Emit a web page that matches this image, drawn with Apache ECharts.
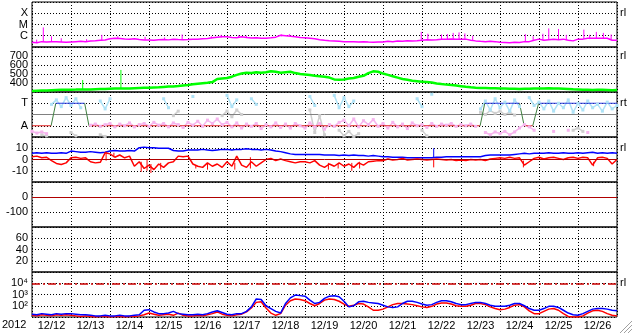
<!DOCTYPE html>
<html>
<head>
<meta charset="utf-8">
<script src="https://cdn.jsdelivr.net/npm/echarts@6/dist/echarts.min.js"></script>
<style>
html,body{margin:0;padding:0;background:#fff}
#chart{width:633px;height:334px}
</style>
</head>
<body>
<div id="chart"></div>
<script>
// 12/12 00:00 .. 12/27 00:00, one value every 3 hours (8 per day, 121 values)
var STEP = 1 / 8;
var days = ['12/12','12/13','12/14','12/15','12/16','12/17','12/18','12/19','12/20','12/21','12/22','12/23','12/24','12/25','12/26'];

// x-ray flux (background level)
var xray = [
  2.6e-7,2.4e-7,3e-7,2.8e-7,2.9e-7,3e-7,2.8e-7,2.6e-7,
  2.8e-7,3e-7,3.2e-7,3e-7,3.4e-7,3.6e-7,4e-7,4.2e-7,
  5.5e-7,6e-7,5.8e-7,5.2e-7,5e-7,5.5e-7,4.6e-7,4.2e-7,
  4.2e-7,4e-7,4.4e-7,4.6e-7,4.3e-7,4.8e-7,4.6e-7,4.5e-7,
  4.6e-7,4.8e-7,5e-7,5.4e-7,5.8e-7,6.5e-7,7.5e-7,8e-7,
  8e-7,7e-7,6.5e-7,8e-7,7e-7,6.2e-7,6.5e-7,6e-7,
  6e-7,6.5e-7,7.5e-7,1.1e-6,1e-6,9e-7,8e-7,7e-7,
  6.5e-7,6e-7,5.5e-7,4.5e-7,4e-7,3.6e-7,3.4e-7,3.2e-7,
  3e-7,3e-7,2.9e-7,2.8e-7,3e-7,2.8e-7,2.7e-7,2.8e-7,
  2.8e-7,3.2e-7,3e-7,3.4e-7,3.2e-7,3.6e-7,3.4e-7,3.6e-7,
  4e-7,4.5e-7,4.2e-7,4.5e-7,5e-7,5e-7,5.2e-7,5e-7,
  4.8e-7,5e-7,4e-7,3.5e-7,3.2e-7,3e-7,3.3e-7,3e-7,
  2.6e-7,2.5e-7,2.4e-7,2.6e-7,2.5e-7,3e-7,3e-7,4e-7,
  5e-7,4e-7,4.5e-7,5e-7,4.5e-7,5e-7,4e-7,3.5e-7,
  5e-7,5e-7,6e-7,6e-7,6e-7,6e-7,6e-7,4e-7,
  4e-7
];
// short x-ray spikes: [day, foot, peak]
var xraySpikes = [
  [0.12,2.6e-7,4.5e-7],[0.29,3e-7,5.5e-6],[0.5,2.8e-7,9e-7],[0.75,2.8e-7,6e-7],
  [1.4,3e-7,5e-7],[1.79,3.6e-7,1.2e-6],[2.2,5.5e-7,9e-7],[2.9,4.4e-7,8e-7],
  [3.4,4.2e-7,7e-7],[3.85,4.5e-7,1.3e-6],[4.6,6e-7,9e-7],[4.85,7e-7,1.2e-6],
  [5.3,6.5e-7,1.1e-6],[5.5,6.5e-7,1e-6],[6.4,9e-7,1.3e-6],[6.6,1e-6,1.4e-6],
  [9.98,3.4e-7,2.2e-6],[10.15,4e-7,1.5e-6],[10.5,4.2e-7,1.3e-6],[10.65,5e-7,1.4e-6],
  [10.8,5e-7,1.8e-6],[10.95,5e-7,2e-6],[11.1,4.5e-7,1.6e-6],[11.3,3.5e-7,1e-6],
  [12.65,3e-7,1.4e-6],[12.85,3.5e-7,9e-7],[13.1,4e-7,1.5e-6],[13.25,4.5e-7,4.5e-6],
  [13.5,4.5e-7,4e-6],[13.7,4e-7,1.2e-6],[14.15,5e-7,3.5e-6],[14.3,5e-7,1.2e-6],
  [14.47,6e-7,2.2e-6],[14.65,6e-7,1.8e-6],[14.85,5e-7,1.3e-6]
];

// solar wind speed
var speed = [
  312,314,316,318,320,322,324,326,
  326,327,329,328,328,330,332,334,
  336,338,339,340,338,342,344,346,
  348,350,352,356,360,362,366,372,
  378,385,392,398,402,410,445,450,
  455,470,490,505,515,510,520,515,
  520,530,525,515,520,525,510,500,
  495,490,480,475,470,460,440,435,
  440,450,455,470,480,510,530,525,
  505,490,475,460,445,435,425,420,
  415,410,405,395,388,382,378,372,
  365,358,352,348,345,344,342,342,
  340,338,336,335,334,335,336,338,
  340,338,342,340,338,336,334,330,
  328,325,324,322,326,324,322,320,
  322
];
var speedSpikes = [[1.3,328,433],[2.28,340,545]];

// panel 3: A = 1, T = 3
var stateX = [0, 0.49, 0.61, 1.35, 1.46, 11.49, 11.61, 12.50, 12.62, 12.84, 12.99, 15];
var stateY = [1, 1, 3, 3, 1, 1, 3, 3, 1, 1, 3, 3];
var pink = [
  0.5,0.35,0.45,0.3,null,null,null,null,
  null,null,null,null,1.05,1.15,0.95,1.1,
  1.2,0.9,1.15,1.0,1.25,0.9,1.1,1.2,
  0.95,1.3,1.05,1.2,0.9,1.25,1.1,0.85,
  1.3,1.05,1.4,0.95,1.5,1.2,1.6,1.1,
  1.3,0.9,1.25,0.8,1.15,0.95,1.2,0.75,
  1.1,0.9,1.25,0.85,1.15,0.8,1.2,1.0,
  0.8,1.25,0.9,1.2,0.7,1.1,0.95,1.3,
  1.5,1.0,1.6,0.9,1.45,1.1,1.55,0.95,
  1.2,0.8,1.3,0.9,1.15,0.75,1.25,1.0,
  1.1,0.85,1.2,0.95,1.15,1.05,1.2,0.95,
  1.1,1.0,1.15,0.95,null,0.4,0.2,0.45,
  0.3,0.5,0.2,0.45,0.8,1.1,0.9,0.6,
  null,null,null,0.5,null,null,0.6,null,
  null,null,0.4,null,null,null,null,null,
  null
];
var cyan = [
  null,null,null,null,2.9,3.3,2.7,3.5,
  2.8,3.4,2.6,null,null,null,3.2,2.5,
  3.4,null,null,null,null,null,null,null,
  null,null,null,3.4,2.6,null,null,null,
  null,3.6,null,null,null,null,null,null,
  3.7,2.7,3.3,null,null,3.4,2.9,null,
  null,null,null,null,null,null,null,null,
  null,3.6,2.8,null,null,null,3.7,2.6,
  3.5,2.7,3.2,null,null,null,null,null,
  null,null,null,null,null,null,null,3.4,
  2.7,null,3.8,null,null,null,null,null,
  null,null,null,null,2.5,3.2,2.4,3.4,
  2.6,3.1,2.3,3.3,2.7,null,3.5,2.8,
  3.1,2.5,3.2,2.3,3.0,2.6,3.3,2.2,
  3.0,2.4,3.2,2.6,2.9,2.3,3.1,2.5,
  2.8
];
var grayPts = [
  null,null,0.2,0.1,null,null,null,null,
  0.4,0.1,null,null,null,null,0.2,0.05,
  null,null,null,null,null,null,null,null,
  null,null,null,null,null,1.9,2.3,null,
  null,null,null,null,null,null,null,1.9,
  2.3,1.8,2.4,2.0,null,null,null,null,
  null,null,null,null,null,null,null,null,
  null,2.4,0.4,1.9,0.2,null,null,0.6,
  0.1,0.5,0.05,0.3,null,null,null,null,
  null,null,null,null,null,null,null,null,
  0.6,0.1,null,null,null,null,null,null,
  null,null,null,null,2.2,2.0,2.35,2.1,
  2.3,2.0,2.2,1.95,null,null,null,null,
  null,null,null,null,null,null,null,0.6,
  0.8,0.5,null,null,null,null,null,null,
  null
];

// magnetic field
var bt = [
  5.5,6,5.5,6,5.5,5.5,6,5.5,
  7.5,7,6.5,6.5,7,6.5,6,6.5,
  7.5,8,7.5,7.5,8,7.5,10.5,11,
  10.5,10.5,10,10,10,8,7.5,7.5,
  8.5,8.5,8.5,9,8.5,8,8.5,9,
  9,8.5,9,9,9.5,9,9,8.5,
  9,8.5,7.5,7,6,5,4.5,4.5,
  4.5,4.5,4.5,4.5,4,4,4,3.5,
  4,3.5,4,3.5,3.5,3,3.5,3,
  2.5,2.5,2,2,2,1.5,1.5,1.5,
  1.5,1.5,1.5,2,2,2.5,2.5,2.5,
  2.5,2.5,2.5,2.5,2.5,3.5,4,4,
  4,4,4,4.5,5,5.5,5,5.5,
  5.5,5.5,6,5.5,5.5,6,5.5,5.5,
  6,5.5,6,6.5,5.5,6,5.5,6,
  5.5
];
var btSpikes = [[10.3,1.5,10]];
var bz = [
  2.5,3,1.5,2,-1,-3.5,-4.5,-3,
  1.5,2,1,1.5,-2,-3,-2.5,6,
  5,2,4,1.5,3,-6,-2,-8,
  -5,-9,-4,-7,-3,-2,3,2.5,
  3,-4,-6,-7,-3,-6,-4,-7,
  -2,-6,3,-5,-7,-2,-6,-3,
  0,1,-1,0.5,-1,-2,-3,-2,
  -2,-3,-1,-5,-7,-4,-6,-3,
  -6,-4,-7,-3,-5,-2,-1.5,-1,
  -1,0.5,-0.5,0,1,-0.5,0,0.5,
  0,-0.5,0,0.5,0,-0.5,0,-1,
  -0.5,-1,0,-0.5,0,-1,0.5,1,
  1.5,1,2,1,1.5,-5,-2,1,
  2,0.5,1.5,2,1,0,1.5,2,
  1,2,1.5,-5,1.5,2,1,-4,
  0
];
var bzSpikes = [
  [1.9,-1,7],[2.1,2,6],[2.8,-2,-11],[2.95,0,-10],[3.05,-4,-12],[3.3,-3,-9],
  [4.2,-5,-8],[4.5,-4,-9],[5.2,-3,-9],[5.6,2,-8],[7.6,-3,-9],[7.85,-4,-8],
  [8.2,-3,-10],[8.4,-2,-8],[10.3,0,-7],[12.6,-1,-7],[14.4,-2,-6]
];

// particle flux, read as powers of ten
var fluxBlueExp = [
  1.25,1.2,1.3,1.25,1.2,1.3,1.25,1.3,
  1.3,1.25,1.2,1.2,1.15,1.1,1.1,1.15,
  1.1,1.1,1.15,1.1,1.1,1.15,1.2,1.6,
  1.65,1.45,1.3,1.3,1.35,1.5,1.3,1.25,
  1.2,1.2,1.25,1.2,1.3,1.45,1.55,1.4,
  1.25,1.2,1.3,1.3,1.5,1.9,2.6,2.55,
  2.0,1.75,1.5,1.35,2.2,2.7,2.95,2.9,
  2.85,2.5,2.2,2.3,2.65,2.85,2.88,2.8,
  2.4,1.9,2.0,2.35,2.4,2.3,2.25,2.2,
  2.05,1.9,1.85,1.9,2.2,2.4,2.4,2.3,
  2.15,2.05,2.1,2.3,2.45,2.45,2.35,2.2,
  2.1,2.1,2.2,2.3,2.3,2.2,2.05,1.95,
  1.95,1.95,2.05,2.2,2.2,2.0,1.75,1.6,
  1.6,1.75,1.95,1.95,1.85,1.6,1.35,1.2,
  1.15,1.3,1.5,1.7,1.75,1.75,1.7,1.6,
  1.55
];
var fluxRedExp = [
  1.15,1.1,1.2,1.15,1.1,1.2,1.15,1.2,
  1.15,1.1,1.05,1.1,1.05,1.0,1.05,1.05,
  1.0,1.05,1.05,1.0,1.05,1.05,1.1,1.2,
  1.35,1.25,1.15,1.2,1.25,1.15,1.35,1.15,
  1.1,1.1,1.15,1.1,1.2,1.3,1.45,1.25,
  1.15,1.1,1.2,1.25,1.45,1.8,2.3,2.35,
  1.8,1.35,1.15,1.3,2.05,2.45,2.6,2.55,
  2.45,2.2,2.0,2.2,2.5,2.6,2.55,2.4,
  2.15,1.95,2.05,2.2,2.15,1.9,1.6,1.6,
  1.7,1.9,2.1,2.2,2.2,2.15,2.1,2.0,
  1.9,1.85,1.95,2.15,2.25,2.25,2.15,2.0,
  1.95,1.95,2.05,2.2,2.2,2.1,1.9,1.75,
  1.65,1.7,1.85,2.05,2.1,1.9,1.55,1.3,
  1.3,1.5,1.7,1.75,1.6,1.3,1.05,1.0,
  1.0,1.1,1.35,1.55,1.6,1.5,1.3,1.15,
  1.1
];

var FONT = 'Liberation Sans';
var dotted = { color: '#000', width: 1, type: [1, 2] };
var tops = [2, 47, 92, 137, 182, 227, 272];

function pts(arr) {
  return arr.map(function (v, i) { return [i * STEP, v == null ? '-' : v]; });
}
function expPts(arr) {
  return arr.map(function (v, i) { return [i * STEP, Math.pow(10, v)]; });
}
function spikePts(list) {
  var out = [];
  list.forEach(function (s) { out.push([s[0], s[1]], [s[0], s[2]], [s[0], '-']); });
  return out;
}
function lab(map) {
  return function (v) {
    var k = String(v);
    return map[k] !== undefined ? map[k] : '';
  };
}
function logLab(map) {
  return function (v) {
    var e = Math.round(Math.log10(v));
    return map[e] !== undefined ? map[e] : '';
  };
}
function rightTag(level, text) {
  return {
    silent: true, symbol: 'none',
    lineStyle: { color: 'rgba(0,0,0,0)', width: 1, type: 'solid' },
    label: { show: true, position: 'end', formatter: text, color: '#000', fontFamily: FONT, fontSize: 11, distance: 3 },
    data: [{ yAxis: level }]
  };
}
function zeroLine(level, color) {
  return {
    silent: true, symbol: 'none',
    label: { show: false },
    lineStyle: { color: color, width: 1, type: 'solid' },
    data: [{ yAxis: level }]
  };
}

var grids = tops.map(function (t) {
  return { left: 32, right: 16, top: t, height: 45, show: true, borderColor: '#000', borderWidth: 1 };
});

var xAxes = tops.map(function (t, i) {
  return {
    type: 'value', gridIndex: i, min: 0, max: 15, interval: 1,
    axisLabel: { show: false }, axisTick: { show: false }, axisLine: { show: false },
    splitLine: { show: true, lineStyle: dotted }
  };
});
xAxes.push({
  type: 'category', gridIndex: 6, data: days, boundaryGap: true, position: 'bottom',
  axisLine: { show: false }, axisTick: { show: false }, splitLine: { show: false },
  axisLabel: { color: '#000', fontFamily: FONT, fontSize: 11, margin: 3, interval: 0 }
});

function yBase(i, extra) {
  var o = {
    gridIndex: i,
    axisLine: { show: false }, axisTick: { show: false },
    splitLine: { show: true, lineStyle: dotted },
    axisLabel: { color: '#000', fontFamily: FONT, fontSize: 11, margin: 4 }
  };
  for (var k in extra) {
    if (k === 'formatter') o.axisLabel.formatter = extra[k]; else o[k] = extra[k];
  }
  return o;
}

var yAxes = [
  yBase(0, { type: 'log', logBase: 10, min: 1e-7, max: 1e-3, formatter: logLab({ '-4': 'X', '-5': 'M', '-6': 'C' }) }),
  yBase(1, { type: 'value', min: 300, max: 800, interval: 100, formatter: lab({ '400': '400', '500': '500', '600': '600', '700': '700' }) }),
  yBase(2, { type: 'value', min: 0, max: 4, interval: 1, formatter: lab({ '1': 'A', '3': 'T' }) }),
  yBase(3, { type: 'value', min: -20, max: 20, interval: 10, formatter: lab({ '10': '10', '0': '0', '-10': '-10' }) }),
  yBase(4, { type: 'value', min: -200, max: 100, interval: 100, formatter: lab({ '0': '0', '-100': '-100' }) }),
  yBase(5, { type: 'value', min: 0, max: 80, interval: 20, formatter: lab({ '20': '20', '40': '40', '60': '60' }) }),
  yBase(6, { type: 'log', logBase: 10, min: 10, max: 1e5, formatter: logLab({ 2: '10\u00b2', 3: '10\u00b3', 4: '10\u2074' }) })
];

function line(idx, data, color, width, extra) {
  var s = {
    type: 'line', xAxisIndex: idx, yAxisIndex: idx, data: data,
    showSymbol: false, symbol: 'none', connectNulls: false, silent: true,
    lineStyle: { color: color, width: width }, itemStyle: { color: color }
  };
  for (var k in extra) s[k] = extra[k];
  return s;
}

var series = [];
series.push(line(0, pts(xray), '#ff00ff', 1.5));
series.push(line(0, spikePts(xraySpikes), '#ff00ff', 1));
series.push(line(1, pts(speed), '#00ff00', 2.5, { markLine: rightTag(700, 'rl') }));
series.push(line(1, spikePts(speedSpikes), '#00ff00', 1));

var dots = { showSymbol: true, symbol: 'rect', symbolSize: 3 };
series.push(line(2, pts(grayPts), '#cfcfcf', 1.5, dots));
series.push(line(2, pts(pink), '#f6b4ee', 1.5, dots));
series.push(line(2, pts(cyan), '#aee2f6', 1.5, dots));
series.push(line(2, [[0, 2], [15, 2]], '#808080', 1, { markLine: rightTag(3, 'rt') }));
for (var i = 0; i < stateX.length - 1; i++) {
  var a = stateY[i], b = stateY[i + 1];
  var c = (a === 1 && b === 1) ? '#e02020' : (a === 3 && b === 3) ? '#2a3ce0' : '#3f7f3f';
  series.push(line(2, [[stateX[i], a], [stateX[i + 1], b]], c, 1));
}

series.push(line(3, pts(bt), '#0000ff', 1.5, { markLine: rightTag(10, 'rl') }));
series.push(line(3, spikePts(btSpikes), '#0000ff', 1));
series.push(line(3, pts(bz), '#ff0000', 1.5, { markLine: zeroLine(0, '#b00000') }));
series.push(line(3, spikePts(bzSpikes), '#ff0000', 1));
series.push(line(4, [], '#b00000', 1, { markLine: zeroLine(0, '#b00000') }));

series.push(line(6, expPts(fluxRedExp), '#ff0000', 1.5));
series.push(line(6, expPts(fluxBlueExp), '#0000ff', 1.5));
series.push(line(6, [], '#cc0000', 1, {
  markLine: {
    silent: true, symbol: 'none',
    lineStyle: { color: '#cc0000', width: 1.5, type: [8, 3, 2, 3] },
    label: { show: true, position: 'end', formatter: 'rl', color: '#000', fontFamily: FONT, fontSize: 11, distance: 3 },
    data: [{ yAxis: 1e4 }]
  }
}));

var chart = echarts.init(document.getElementById('chart'));
chart.setOption({
  animation: false,
  backgroundColor: '#fff',
  textStyle: { fontFamily: FONT },
  grid: grids,
  xAxis: xAxes,
  yAxis: yAxes,
  series: series,
  graphic: [
    { type: 'text', left: 2, top: 319, style: { text: '2012', fill: '#000', font: '11px ' + FONT } },
    { type: 'line', shape: { x1: 620, y1: 333, x2: 632, y2: 321 }, style: { stroke: '#a0a0a0', lineWidth: 1 } },
    { type: 'line', shape: { x1: 624, y1: 333, x2: 632, y2: 325 }, style: { stroke: '#a0a0a0', lineWidth: 1 } },
    { type: 'line', shape: { x1: 628, y1: 333, x2: 632, y2: 329 }, style: { stroke: '#a0a0a0', lineWidth: 1 } }
  ]
});

// right-hand tag of the x-ray panel, placed at the X level through the axis
var tagPos = chart.convertToPixel({ xAxisIndex: 0, yAxisIndex: 0 }, [15, 1e-4]);
chart.setOption({
  graphic: [
    { type: 'text', id: 'xrayTag', x: tagPos[0] + 3, y: tagPos[1], style: { text: 'rl', fill: '#000', font: '11px ' + FONT, verticalAlign: 'middle' } }
  ]
});
</script>
</body>
</html>
